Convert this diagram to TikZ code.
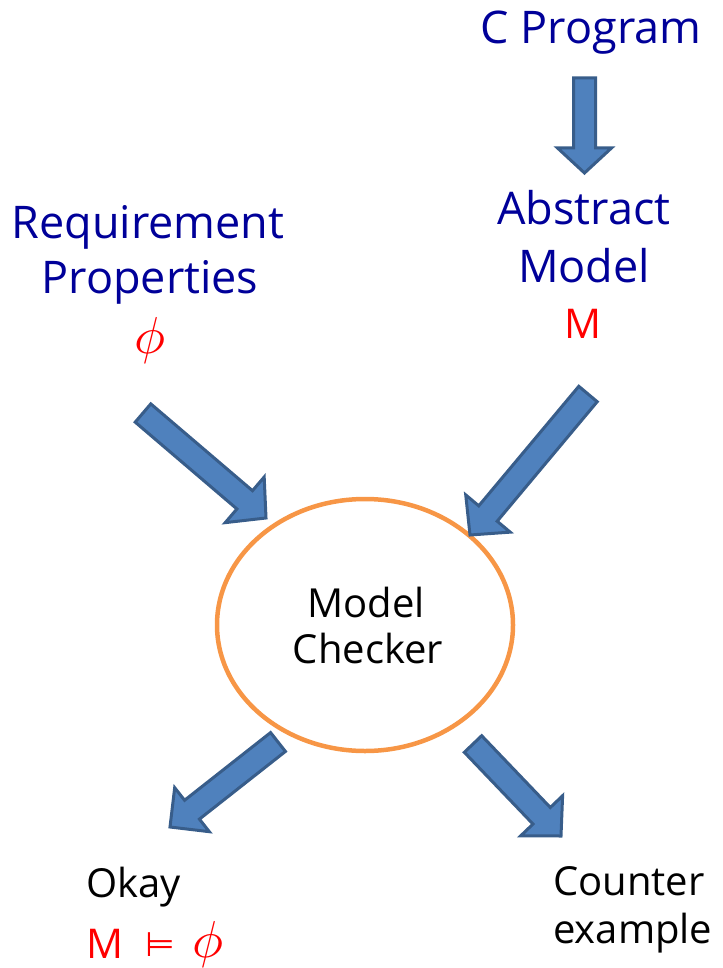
\documentclass[tikz,border=0pt]{standalone}
\usepackage{graphicx}
\usepackage{fontspec}
\setmainfont{Open Sans}
\newfontfamily\symfont{DejaVu Sans}
\usetikzlibrary{calc,shapes.geometric}

\definecolor{textblue}{RGB}{0,0,153}
\definecolor{arrowfill}{HTML}{4F81BD}
\definecolor{arrowline}{HTML}{385D8A}
\definecolor{ringorange}{HTML}{F79646}

% large italic phi
\newcommand{\bigphi}{\scalebox{5.2}{$\phi$}}

% block arrow between two named coordinates: tail, tip, half shaft, half head, head length
\newcommand{\blockarrow}[5]{%
  \coordinate (#1-#2-base) at ($(#2)!#5!(#1)$);
  \draw[arrowshape]
    ($(#1)!#3!90:(#2)$) -- ($(#1-#2-base)!#3!-90:(#1)$) -- ($(#1-#2-base)!#4!-90:(#1)$)
    -- (#2) -- ($(#1-#2-base)!#4!90:(#1)$) -- ($(#1-#2-base)!#3!90:(#1)$)
    -- ($(#1)!#3!-90:(#2)$) -- cycle;
}

\begin{document}
\begin{tikzpicture}[x=1pt,y=-1pt,
  arrowshape/.style={fill=arrowfill,draw=arrowline,line width=3pt,line join=miter},
  bluetxt/.style={text=textblue,inner sep=0pt,anchor=base,font=\fontsize{45}{54}\selectfont},
  blacktxt/.style={text=black,inner sep=0pt,anchor=base,font=\fontsize{40}{48}\selectfont},
  redtxt/.style={text=red,inner sep=0pt,anchor=base,font=\fontsize{41}{48}\selectfont},
  phitxt/.style={text=red,inner sep=0pt,anchor=base,font=\fontsize{10}{12}\selectfont},
  ring/.style={ellipse,draw=ringorange,line width=4.5pt,minimum width=296pt,minimum height=252pt,inner sep=0pt}
]
\useasboundingbox (0,0) rectangle (722,968);

% source: the program
\node[bluetxt] (prog) at (591,44) {C Program};

% abstract model
\node[bluetxt] (abs1) at (584,225) {Abstract};
\node[bluetxt] (abs2) at (584,282) {Model};
\node[redtxt]  (absM) at (583,338) {M};

% requirement properties
\node[bluetxt] (req1) at (148,238) {Requirement};
\node[bluetxt] (req2) at (150,293) {Properties};
\node[phitxt]  (reqphi) at (150,353) {\bigphi};

% model checker
\node[ring] (mc) at (365,625) {};
\node[blacktxt] (mc1) at (366,617) {Model};
\node[blacktxt] (mc2) at (368,663) {Checker};

% results
\node[blacktxt,anchor=base west] (ok) at (86,897) {Okay};
\node[redtxt,anchor=base west] (okM) at (86,958) {M};
\node[text=red,inner sep=0pt,anchor=base,font=\symfont\fontsize{34}{40}\selectfont] (okmod) at (160,956) {⊨};
\node[phitxt] (okphi) at (208,957) {\bigphi};

\node[blacktxt,anchor=base west] (ce1) at (553,895) {Counter};
\node[blacktxt,anchor=base west] (ce2) at (553,943) {example};

% arrow end points
\coordinate (a0t) at (584.5,78);
\coordinate (a0h) at (584.5,173);
\coordinate (a1t) at (143,413);
\coordinate (a1h) at (266,518);
\coordinate (a2t) at (588,394);
\coordinate (a2h) at (470,535);
\coordinate (a3t) at (278,742);
\coordinate (a3h) at (170,827);
\coordinate (a4t) at (473,744);
\coordinate (a4h) at (561,836);

\blockarrow{a0t}{a0h}{11pt}{27pt}{25pt}
\blockarrow{a1t}{a1h}{12pt}{30pt}{28pt}
\blockarrow{a2t}{a2h}{12pt}{29pt}{28pt}
\blockarrow{a3t}{a3h}{12pt}{28pt}{28pt}
\blockarrow{a4t}{a4h}{12pt}{29pt}{28pt}
\end{tikzpicture}
\end{document}
